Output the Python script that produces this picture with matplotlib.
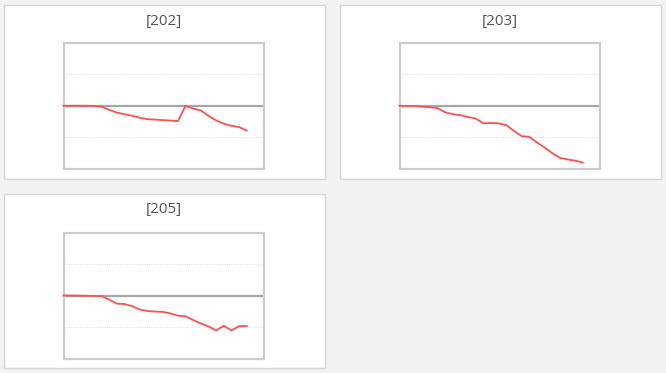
import matplotlib
matplotlib.use("Agg")
import matplotlib.pyplot as plt
from matplotlib.patches import Rectangle

titles = ["[202]", "[203]", "[205]"]
series_202 = [0, 0, 0, 0, -0.01, -0.03, -0.13, -0.22, -0.27, -0.32, -0.38, -0.43, -0.44,
              -0.46, -0.47, -0.49, 0.0, -0.09, -0.15, -0.32, -0.47, -0.57, -0.64, -0.68, -0.79]
series_203 = [0, -0.005, -0.01, -0.03, -0.05, -0.075, -0.21, -0.27, -0.30, -0.36, -0.41, -0.56,
              -0.55, -0.56, -0.62, -0.80, -0.97, -0.99, -1.17, -1.33, -1.51, -1.66, -1.71, -1.75, -1.81]
series_205 = [0, 0, -0.005, -0.01, -0.015, -0.02, -0.13, -0.26, -0.27, -0.34, -0.45, -0.49,
              -0.51, -0.52, -0.57, -0.64, -0.66, -0.78, -0.89, -0.98, -1.11, -0.96, -1.11, -0.97, -0.97]
all_series = [series_202, series_203, series_205]

W, H = 666, 373
fig = plt.figure(figsize=(W / 100, H / 100), dpi=100)
fig.patch.set_facecolor("#f2f2f2")

def fbox(x0, y0, x1, y1):
    return [x0 / W, 1 - y1 / H, (x1 - x0) / W, (y1 - y0) / H]

panels = [(3.5, 5, 324.5, 179), (339.5, 5, 660.5, 179), (3.5, 193.5, 324.5, 368)]
plots = [(63.5, 43, 263.5, 168.5), (399.5, 43, 599.5, 168.5), (63.5, 232.5, 263.5, 358.5)]

for (px0, py0, px1, py1), (ax0, ay0, ax1, ay1), title, data in zip(panels, plots, titles, all_series):
    b = fbox(px0, py0, px1, py1)
    fig.patches.append(Rectangle((b[0], b[1]), b[2], b[3], transform=fig.transFigure,
                                 facecolor="white", edgecolor="#d6d6d6", linewidth=1.0, zorder=-5))
    fig.text((px0 + px1) / 2 / W, 1 - (py0 + 16) / H, title, ha="center", va="center",
             fontsize=11, color="#555555", family="Open Sans", zorder=5)
    ax = fig.add_axes(fbox(ax0, ay0, ax1, ay1))
    ax.set_zorder(2)
    ax.set_facecolor("white")
    ax.plot(range(len(data)), data, color="#ff5050", linewidth=1.3, zorder=3, clip_on=False)
    ax.axhline(0, color="#a6a6a6", linewidth=1.6, zorder=2)
    for g in (1, -1):
        ax.axhline(g, color="#e3e3e3", linewidth=0.8, linestyle=(0, (1, 1)), zorder=1)
    ax.set_xlim(0, 26.2)
    ax.set_ylim(-2, 2)
    ax.set_xticks([])
    ax.set_yticks([])
    for s in ax.spines.values():
        s.set_color("#cccccc")
        s.set_linewidth(1.6)

fig.savefig("out.png", dpi=100, facecolor=fig.get_facecolor())
